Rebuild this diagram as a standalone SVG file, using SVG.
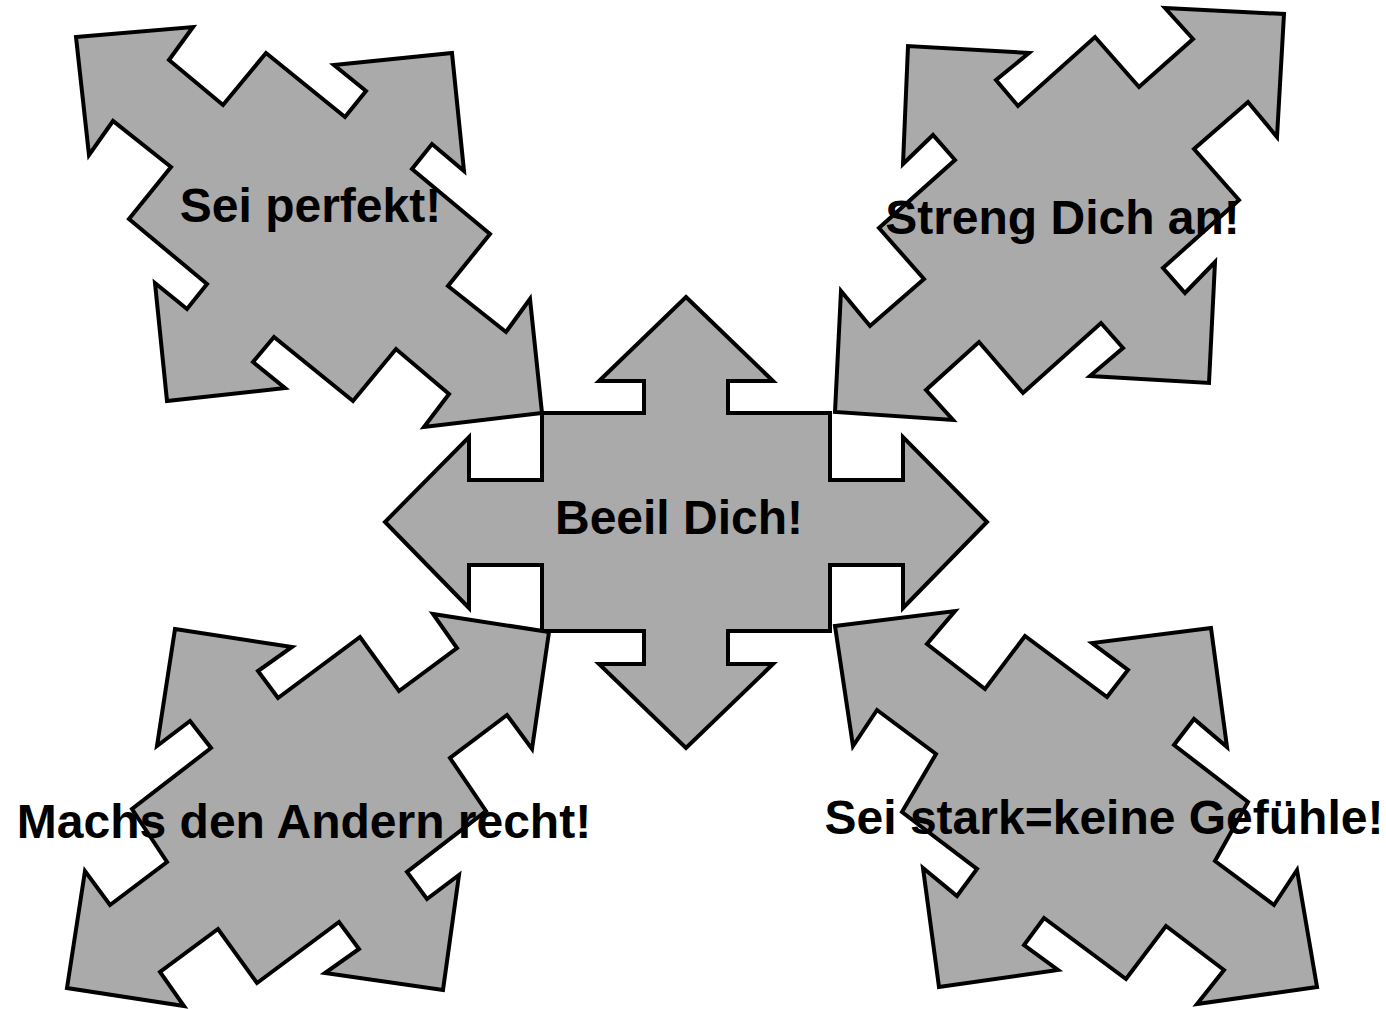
<svg xmlns="http://www.w3.org/2000/svg" width="1386" height="1009" viewBox="0 0 1386 1009">
<style>
.shape{fill:#aaaaaa;stroke:#000;stroke-width:4;stroke-linejoin:miter}
.lbl{font-family:"Liberation Sans",Arial,sans-serif;font-weight:bold;font-size:48px;fill:#000;text-anchor:middle}
</style>
<rect width="1386" height="1009" fill="#fff"/>
<g id="connectors"></g>
<g id="node-beeil">
<polygon class="shape" points="686,297 773,381 728,381 728,413 830,413 830,480 903,480 903,437 987,522 903,608 903,565 830,565 830,631 728,631 728,664 773,664 686,748 599,664 644,664 644,631 542,631 542,565 469,565 469,608 385,522 469,437 469,480 542,480 542,413 644,413 644,381 599,381"/>
</g>
<g id="node-perfekt">
<polygon class="shape" points="76,37 193,27 169,60 223,105 266,53 345,117 366,91 334,65 452,53 464,171 432,144 412,169 490,234 448,286 506,332 530,299 542,413 424,427 449,394 396,349 353,401 274,337 253,362 285,388 167,401 155,283 187,309 207,284 129,219 171,167 113,121 89,155"/>
</g>
<g id="node-streng">
<polygon class="shape" points="1284,14 1277,137 1248,102 1194,149 1239,200 1163,268 1185,293 1215,262 1209,383 1090,376 1123,348 1101,323 1023,393 979,342 926,390 953,420 835,412 841,291 870,326 924,279 879,228 955,160 933,135 903,164 908,46 1029,53 996,80 1018,106 1095,37 1139,87 1193,39 1165,8"/>
</g>
<g id="node-machs">
<polygon class="shape" points="175,629 292,647 258,671 278,698 360,637 399,691 457,648 433,614 549,632 532,749 507,715 450,758 486,811 407,872 427,899 459,875 443,990 325,973 359,949 339,922 257,983 218,929 160,972 184,1006 67,988 85,871 110,905 167,862 132,809 211,748 190,721 157,746"/>
</g>
<g id="node-stark">
<polygon class="shape" points="835,626 955,611 927,644 985,689 1025,636 1107,697 1128,670 1092,643 1211,628 1227,747 1194,719 1174,745 1248,802 1215,861 1274,905 1297,870 1317,987 1197,1004 1224,970 1166,926 1126,979 1044,918 1024,945 1058,970 939,987 923,868 957,896 977,869 902,812 936,754 877,710 853,746"/>
</g>
<g id="labels">
<text class="lbl" x="310.5" y="222">Sei perfekt!</text>
<text class="lbl" x="1062.5" y="234">Streng Dich an!</text>
<text class="lbl" x="679" y="534">Beeil Dich!</text>
<text class="lbl" x="304" y="838">Machs den Andern recht!</text>
<text class="lbl" x="1104" y="834">Sei stark=keine Gefühle!</text>
</g>
</svg>
